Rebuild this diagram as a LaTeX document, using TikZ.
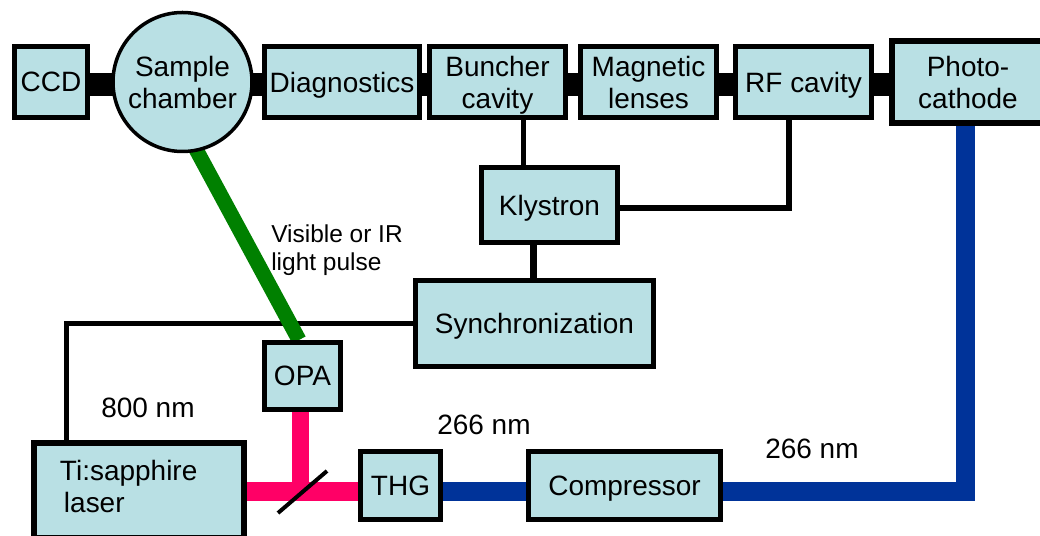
\documentclass[tikz,border=0pt]{standalone}
\usepackage{fontspec}
\setmainfont{Liberation Sans}
\usetikzlibrary{backgrounds}
\newlength\pxu
\setlength\pxu{0.025cm}
\definecolor{boxfill}{RGB}{185,224,228}
\definecolor{beamgreen}{RGB}{0,128,0}
\definecolor{beampink}{RGB}{255,0,102}
\definecolor{beamblue}{RGB}{0,51,153}
\newcommand\boxfont{\fontsize{19.9pt}{22.8pt}\selectfont}
\newcommand\labfont{\fontsize{19.9pt}{22.8pt}\selectfont}
\newcommand\visfont{\fontsize{17.4pt}{19.9pt}\selectfont}
\begin{document}
\begin{tikzpicture}[x=0.025cm,y=-0.025cm,
  unit/.style={draw=black, line width=5*\pxu, fill=boxfill, inner sep=0pt,
    align=center, font=\boxfont, text depth=0pt},
  bigunit/.style={unit, line width=6*\pxu},
  roundunit/.style={unit, circle, line width=3.5*\pxu},
  wire/.style={draw=black, line width=5*\pxu},
  bar/.style={draw=black, line width=23*\pxu},
  greenbeam/.style={draw=beamgreen, line width=15*\pxu},
  pinkbeam/.style={draw=beampink, line width=19*\pxu},
  bluebeam/.style={draw=beamblue, line width=19*\pxu, line join=miter},
  splitter/.style={draw=black, line width=4*\pxu},
  lab/.style={inner sep=0pt, font=\labfont},
  vislab/.style={inner sep=0pt, font=\visfont, align=left}
]
\useasboundingbox (0,0) rectangle (1040,536);
\clip (0,0) rectangle (1040,536);

% top row
\node[unit, minimum width=73*\pxu, minimum height=71*\pxu] (ccd) at (51,82) {CCD};
\node[roundunit, minimum size=139*\pxu] (circ) at (182.5,82) {Sample\\chamber};
\node[unit, minimum width=155*\pxu, minimum height=71*\pxu] (diag) at (342,82) {Diagnostics};
\node[unit, minimum width=136*\pxu, minimum height=71*\pxu] (buncher) at (497.5,82) {Buncher\\cavity};
\node[unit, minimum width=136*\pxu, minimum height=71*\pxu] (magnet) at (648.5,82) {Magnetic\\lenses};
\node[unit, minimum width=136*\pxu, minimum height=71*\pxu] (rf) at (803.5,82) {RF cavity};
\node[bigunit, minimum width=152*\pxu, minimum height=82*\pxu] (photo) at (968,82) {Photo-\\cathode};

% middle
\node[unit, minimum width=136*\pxu, minimum height=75*\pxu] (klystron) at (549.5,205) {Klystron};
\node[unit, minimum width=238*\pxu, minimum height=86*\pxu] (sync) at (534.5,323.5) {Synchronization};
\node[unit, minimum width=76*\pxu, minimum height=67*\pxu] (opa) at (302.5,376) {OPA};

% bottom row
\node[bigunit, minimum width=210*\pxu, minimum height=95*\pxu, align=left,
      text width=3.95cm, text depth=40*\pxu] (ti) at (139,490.5) {Ti:sapphire\\\hspace{4\pxu}laser};
\node[unit, minimum width=80*\pxu, minimum height=68*\pxu] (thg) at (400.5,485.5) {THG};
\node[unit, minimum width=192*\pxu, minimum height=68*\pxu] (comp) at (624.5,485.5) {Compressor};

% labels
\node[vislab, anchor=north west] (vis) at (271,224.5) {Visible or IR\\light pulse};
\node[lab, anchor=base west] (l800) at (101,418) {800 nm};
\node[lab, anchor=base west] (l266a) at (437,435) {266 nm};
\node[lab, anchor=base west] (l266b) at (765,459) {266 nm};

% helper coordinates
\coordinate (bary) at (0,85);
\coordinate (kx) at (523,0);
\coordinate (rfx) at (789,0);
\coordinate (ky) at (0,208);
\coordinate (sx) at (533,0);
\coordinate (lx) at (66,0);
\coordinate (gx) at (299,0);
\coordinate (by) at (0,492);
\coordinate (px) at (300,0);
\coordinate (bx) at (965,0);
\coordinate (s1) at (278,513);
\coordinate (s2) at (327,471);

\begin{pgfonlayer}{background}
  \draw[bar] (ccd.center |- bary) -- (photo.center |- bary);
  \draw[wire] (buncher.south -| kx) -- (klystron.north -| kx);
  \draw[wire, line width=6*\pxu] (rf.south -| rfx) |- (klystron.east |- ky);
  \draw[wire, line width=7*\pxu] (klystron.south -| sx) -- (sync.north -| sx);
  \draw[wire] (sync.west) -| (ti.north -| lx);
  \draw[greenbeam, shorten <=-8*\pxu] (circ.-78) -- (opa.north -| gx);
  \draw[pinkbeam] (ti.east |- by) -- (thg.west |- by);
  \draw[pinkbeam, line width=17*\pxu] (opa.south -| px) -- (px |- by);
  \draw[bluebeam] (thg.east |- by) -- (comp.west |- by);
  \draw[bluebeam] (comp.east |- by) -| (photo.south -| bx);
\end{pgfonlayer}
\draw[splitter] (s1) -- (s2);
\end{tikzpicture}
\end{document}
